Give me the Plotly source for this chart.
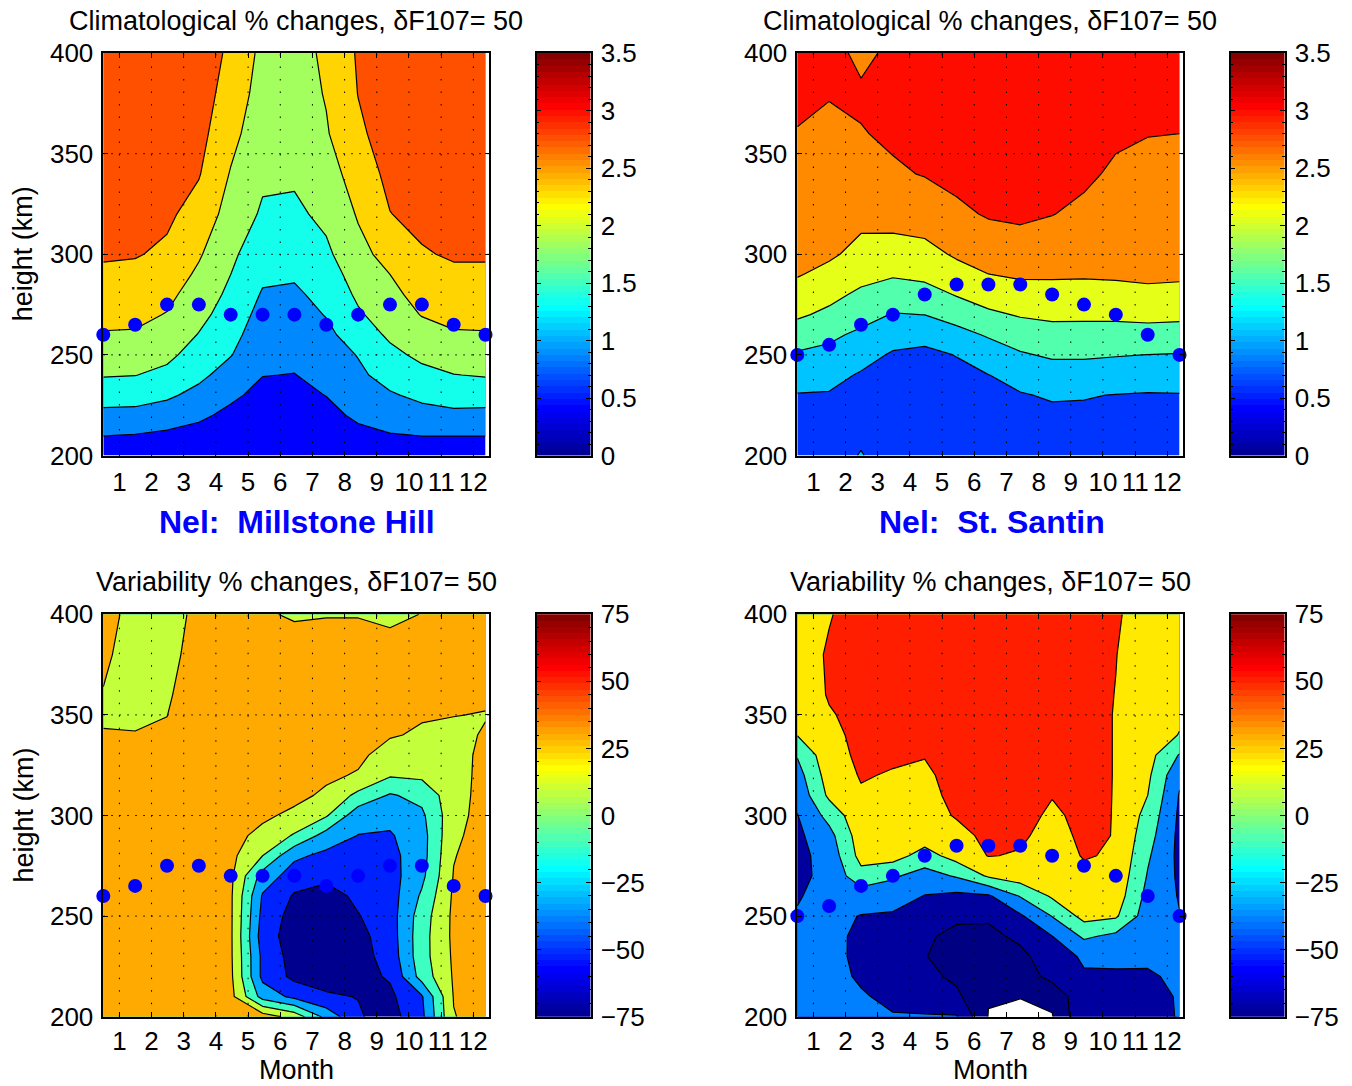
import plotly.graph_objects as go

W, H = 1352, 1086

# ---------------------------------------------------------------- data
MONTH_POS = [0.5, 1.49, 2.48, 3.47, 4.46, 5.45, 6.44, 7.43, 8.42, 9.41, 10.40, 11.39, 12.38]
MONTH_TICKS = [1, 2, 3, 4, 5, 6, 7, 8, 9, 10, 11, 12]
HEIGHT_TICKS = [200, 250, 300, 350, 400]
GRID_HEIGHTS = [250, 300, 350]

HEIGHT_CLIM = [200, 210, 220, 230, 240, 250, 260, 270, 280, 290, 300, 320, 340, 360, 380, 400]
HEIGHT_VAR = [200, 210, 220, 230, 240, 250, 260, 270, 280, 290, 300, 310, 320, 330, 340,
              350, 360, 380, 400]

# monthly hmF2 (km)
MILLSTONE_HMF2 = [260, 265, 275, 275, 270, 270, 270, 265, 270, 275, 275, 265, 260]
SANTIN_HMF2 = [250, 255, 265, 270, 280, 285, 285, 285, 280, 275, 270, 260, 250]

# climatological % change of Ne, one height profile (bottom -> top) per month
MILLSTONE_CLIM = [
    [0.40, 0.71, 1.05, 1.37, 1.67, 1.88, 2.08, 2.23, 2.37, 2.50, 2.63, 2.75, 2.82, 2.87, 2.90, 2.92],
    [0.38, 0.68, 1.03, 1.36, 1.65, 1.87, 2.07, 2.21, 2.34, 2.47, 2.61, 2.74, 2.82, 2.87, 2.90, 2.92],
    [0.35, 0.62, 0.93, 1.25, 1.53, 1.74, 1.92, 2.09, 2.22, 2.37, 2.50, 2.66, 2.75, 2.82, 2.86, 2.88],
    [0.30, 0.55, 0.78, 1.03, 1.28, 1.45, 1.62, 1.77, 1.90, 2.03, 2.16, 2.40, 2.61, 2.72, 2.78, 2.82],
    [0.25, 0.42, 0.60, 0.78, 0.97, 1.19, 1.32, 1.43, 1.54, 1.64, 1.73, 1.93, 2.08, 2.25, 2.40, 2.50],
    [0.20, 0.32, 0.45, 0.58, 0.71, 0.81, 0.91, 1.02, 1.13, 1.25, 1.36, 1.58, 1.72, 1.82, 1.91, 1.99],
    [0.20, 0.31, 0.44, 0.57, 0.69, 0.80, 0.90, 1.00, 1.10, 1.22, 1.33, 1.55, 1.71, 1.81, 1.90, 1.98],
    [0.25, 0.41, 0.56, 0.71, 0.83, 0.95, 1.07, 1.19, 1.30, 1.41, 1.55, 1.75, 1.91, 2.07, 2.14, 2.17],
    [0.33, 0.57, 0.79, 0.96, 1.08, 1.19, 1.38, 1.58, 1.72, 1.85, 1.98, 2.15, 2.32, 2.50, 2.59, 2.63],
    [0.38, 0.67, 0.93, 1.12, 1.35, 1.52, 1.72, 1.87, 1.98, 2.11, 2.26, 2.57, 2.70, 2.78, 2.83, 2.86],
    [0.40, 0.71, 1.00, 1.28, 1.51, 1.74, 1.93, 2.13, 2.28, 2.42, 2.54, 2.70, 2.79, 2.85, 2.88, 2.90],
    [0.40, 0.71, 1.06, 1.38, 1.63, 1.86, 2.07, 2.22, 2.37, 2.50, 2.63, 2.75, 2.82, 2.87, 2.90, 2.92],
    [0.40, 0.71, 1.05, 1.37, 1.67, 1.88, 2.08, 2.23, 2.37, 2.50, 2.63, 2.75, 2.82, 2.87, 2.90, 2.92],
]

SANTIN_CLIM = [
    [0.50, 0.58, 0.70, 0.84, 1.05, 1.29, 1.58, 1.90, 2.11, 2.35, 2.45, 2.58, 2.68, 2.78, 2.90, 2.98],
    [0.70, 0.72, 0.76, 0.83, 0.99, 1.22, 1.44, 1.73, 1.96, 2.17, 2.39, 2.55, 2.64, 2.72, 2.82, 2.95],
    [0.88, 0.80, 0.72, 0.74, 0.82, 1.02, 1.25, 1.52, 1.74, 1.98, 2.17, 2.45, 2.62, 2.78, 2.86, 2.70],
    [0.68, 0.66, 0.66, 0.69, 0.74, 0.81, 1.05, 1.32, 1.58, 1.88, 2.10, 2.51, 2.75, 2.86, 2.89, 2.89],
    [0.68, 0.66, 0.66, 0.68, 0.73, 0.78, 0.97, 1.35, 1.64, 1.95, 2.15, 2.57, 2.82, 2.92, 2.98, 3.00],
    [0.66, 0.66, 0.68, 0.72, 0.78, 0.87, 1.20, 1.52, 1.86, 2.12, 2.38, 2.71, 2.92, 3.02, 3.06, 3.08],
    [0.68, 0.70, 0.74, 0.80, 0.855, 1.11, 1.39, 1.74, 2.05, 2.31, 2.52, 2.84, 3.00, 3.08, 3.12, 3.14],
    [0.70, 0.72, 0.77, 0.84, 0.97, 1.30, 1.56, 1.87, 2.12, 2.38, 2.58, 2.88, 3.02, 3.09, 3.12, 3.14],
    [0.70, 0.75, 0.80, 0.89, 1.15, 1.40, 1.66, 1.92, 2.13, 2.38, 2.55, 2.81, 2.97, 3.05, 3.09, 3.10],
    [0.70, 0.74, 0.80, 0.88, 1.15, 1.40, 1.67, 1.91, 2.12, 2.37, 2.50, 2.72, 2.87, 2.96, 3.02, 3.05],
    [0.70, 0.73, 0.78, 0.85, 1.10, 1.37, 1.65, 1.92, 2.14, 2.39, 2.48, 2.62, 2.74, 2.86, 2.94, 2.98],
    [0.70, 0.73, 0.77, 0.83, 1.07, 1.34, 1.66, 1.95, 2.17, 2.44, 2.50, 2.60, 2.70, 2.81, 2.90, 2.95],
    [0.70, 0.73, 0.77, 0.84, 1.06, 1.32, 1.64, 1.93, 2.15, 2.41, 2.49, 2.60, 2.70, 2.80, 2.90, 2.95],
]

# variability % change of Ne, one height profile (bottom -> top) per month
MILLSTONE_VAR = [
    [30, 30, 30, 30, 30, 30, 30, 30, 30, 30, 30, 29, 27, 24, 21, 18, 19.5, 22, 26],
    [30, 30, 30, 30, 30, 30, 30, 30, 30, 30, 30, 28, 26, 23, 20.5, 18, 16, 15, 14.5],
    [30, 30, 30, 30, 30, 30, 30, 30, 30, 30, 30, 29, 27, 25, 22, 19.8, 18.5, 15, 15],
    [30, 30, 30, 30, 30, 30, 30, 30, 30, 30, 30, 30, 30, 30, 30, 30, 27, 26.5, 23],
    [30, 26, 24, 23, 23, 23, 23, 24, 25, 27, 29, 30, 30, 30, 30, 30, 30, 30, 30],
    [30, -28, -45, -45, -50, -46, -42, -28, 0, 14, 24, 28, 30, 30, 30, 30, 30, 28, 22],
    [12, -45, -65, -68, -70, -68, -62, -50, -36, -2, 15, 26, 30, 30, 30, 30, 30, 29, 18],
    [-26, -58, -66, -70, -72, -72, -68, -55, -45, -28, 2, 16, 24, 28, 30, 30, 30, 30, 19],
    [-58, -60.5, -66, -68, -66, -61, -56, -50, -45, -40.5, -32, -5, 18, 25, 28, 30, 30, 30, 19],
    [-68, -64, -58, -52, -50, -49, -49, -48, -46, -42, -34, -22, 2, 10, 22, 26, 28, 24, 18],
    [-45, -42, -12, -8, -8, -10, -17, -25, -28, -28, -24, -14, 4, 12, 17, 22, 25, 26, 20.2],
    [19, 21, 22, 23, 24, 24, 23, 21, 19, 16, 13, 12, 12, 14, 17, 20.3, 23, 26, 26],
    [30, 30, 30, 30, 30, 30, 30, 30, 30, 29, 28, 27, 26, 24, 21, 19.5, 22, 26, 28],
]

SANTIN_VAR = [
    [-30, -31, -32, -33, -35, -36.5, -39.5, -44, -46, -44, -39, -30, -20, -6, 23, 30, 36, 44, 46],
    [-28, -28, -28, -29, -30, -31, -31, -31, -27, -18, 2, 28, 36, 42, 46, 50, 54, 53.8, 51],
    [-30, -35, -42, -45, -44, -39, -25, 12, 32, 38, 44, 49, 54, 57, 58, 59, 60, 60, 59],
    [-36, -45, -52, -55, -52, -42, -24, -4, 34, 40, 44, 47, 50, 56, 58, 59, 60, 60, 60],
    [-36, -50, -60, -67, -64, -54, -39, -20, 10, 38, 42, 45, 48, 53, 57, 59, 60, 61, 61],
    [-36, -62, -74, -78, -75, -63, -45, -5, 34, 44, 54, 58, 60, 61, 61, 61, 61, 61, 61],
    [-99, -96.5, -88, -82, -75, -64, -42, 26, 53, 58, 61, 62, 62, 62, 62, 62, 62, 62, 62],
    [-110, -96.5, -86, -75, -62, -42, -6, 38, 50, 56, 60, 62, 62, 62, 62, 62, 62, 62, 62],
    [-99.5, -92, -58, -52, -38.5, -7, 26, 33, 38, 43, 48, 53, 56, 58, 59, 60, 60, 61, 61],
    [-42, -44, -41, -34, -3, 32, 36, 45, 54, 57, 58, 59, 60, 60, 60, 60, 60, 60, 60],
    [-50, -47, -41, -33, -15, 26, 38, 44, 49, 51, 51, 51, 51, 51, 51, 51, 51.5, 52.5, 56],
    [-49, -46, -40, -35, -30, -24, -17, -10, -4, 4, 12, 22, 28, 33, 36, 38, 39, 40, 36],
    [-36, -36, -35, -33, -35, -37, -40, -43, -45, -45, -43, -40, -32, -10, 21, 26, 30, 34, 36],
]

# contour levels and the fill colour of each band (lowest band first)
CLIM_LEVELS_MH = dict(start=0.70, end=2.58, size=0.47)
CLIM_COLORS_MH = ["#0000FF", "#0088FF", "#14FFEB", "#A2FF5D", "#FFD400", "#FF5000"]
CLIM_LEVELS_SS = dict(start=0.86, end=2.80, size=0.485)
CLIM_COLORS_SS = ["#0034FF", "#00C4FF", "#52FFAD", "#E6FF19", "#FF8A00", "#FF0C00"]
VAR_LEVELS_MH = dict(start=-60, end=20, size=20)
VAR_COLORS_MH = ["#00008F", "#0022FF", "#00A6FF", "#3DFFC2", "#C4FF3B", "#FFAA00"]
VAR_LEVELS_SS = dict(start=-98, end=52, size=30)
VAR_COLORS_SS = ["#FFFFFF", "#000082", "#00009E", "#0080FF", "#47FFB8", "#FFE900", "#FF1E00"]

CLIM_TITLE = "Climatological % changes, δF107= 50"
VAR_TITLE = "Variability % changes, δF107= 50"

JET = [[0.0, "#00008F"], [0.117, "#0000FF"], [0.367, "#00FFFF"],
       [0.617, "#FFFF00"], [0.867, "#FF0000"], [1.0, "#800000"]]

FONT = "Liberation Sans, Arial, Helvetica, sans-serif"
TICK_SIZE = 26
LABEL_SIZE = 27

# pixel boxes (left, top, right, bottom) of the four panels and their colour bars
PANELS = [
    dict(z=MILLSTONE_CLIM, heights=HEIGHT_CLIM, levels=CLIM_LEVELS_MH, colors=CLIM_COLORS_MH,
         hm=MILLSTONE_HMF2, box=(103.3, 53.1, 489.4, 455.5), cbx=(536.7, 590.7),
         crange=(0, 3.5), cmajor=0.5, cminor=0.1, title=CLIM_TITLE, xstand=3),
    dict(z=SANTIN_CLIM, heights=HEIGHT_CLIM, levels=CLIM_LEVELS_SS, colors=CLIM_COLORS_SS,
         hm=SANTIN_HMF2, box=(797.3, 53.1, 1183.4, 455.5), cbx=(1230.7, 1284.7),
         crange=(0, 3.5), cmajor=0.5, cminor=0.1, title=CLIM_TITLE, xstand=3),
    dict(z=MILLSTONE_VAR, heights=HEIGHT_VAR, levels=VAR_LEVELS_MH, colors=VAR_COLORS_MH,
         hm=MILLSTONE_HMF2, box=(103.3, 614.3, 489.4, 1016.7), cbx=(536.7, 590.7),
         crange=(-75, 75), cmajor=25, cminor=5, title=VAR_TITLE, xstand=0),
    dict(z=SANTIN_VAR, heights=HEIGHT_VAR, levels=VAR_LEVELS_SS, colors=VAR_COLORS_SS,
         hm=SANTIN_HMF2, box=(797.3, 614.3, 1183.4, 1016.7), cbx=(1230.7, 1284.7),
         crange=(-75, 75), cmajor=25, cminor=5, title=VAR_TITLE, xstand=0),
]


def px_x(x):
    return x / W


def px_y(y):
    return 1 - y / H


def band_scale(colors):
    n = len(colors) - 1
    return [[k / n, c] for k, c in enumerate(colors)]


def ax_name(kind, n):
    return kind if n == 1 else f"{kind}{n}"


fig = go.Figure()
layout = dict(
    width=W, height=H, margin=dict(l=0, r=0, t=0, b=0, pad=0, autoexpand=False),
    paper_bgcolor="white", plot_bgcolor="white",
    font=dict(family=FONT, size=TICK_SIZE, color="black"),
    showlegend=False, annotations=[],
)

for i, p in enumerate(PANELS):
    n = i + 1
    xa, ya = ax_name("x", n), ax_name("y", n)
    x0, y0, x1, y1 = p["box"]

    fig.add_trace(go.Contour(
        x=MONTH_POS, y=p["heights"], z=p["z"], transpose=True,
        autocontour=False,
        contours=dict(start=p["levels"]["start"], end=p["levels"]["end"],
                      size=p["levels"]["size"], coloring="fill", showlines=True),
        colorscale=band_scale(p["colors"]), showscale=False,
        line=dict(color="black", width=1.2, smoothing=0),
        hoverinfo="skip", xaxis=xa, yaxis=ya,
    ))

    # dotted grid on top of the filled contours
    gx, gy = [], []
    for m in MONTH_TICKS:
        gx += [m, m, None]
        gy += [200, 400, None]
    fig.add_trace(go.Scatter(x=gx, y=gy, mode="lines", hoverinfo="skip",
                             line=dict(color="black", width=1, dash="1.5px,11px"),
                             xaxis=xa, yaxis=ya))
    hx, hy = [], []
    for h in GRID_HEIGHTS:
        hx += [0.5, 12.5, None]
        hy += [h, h, None]
    fig.add_trace(go.Scatter(x=hx, y=hy, mode="lines", hoverinfo="skip",
                             line=dict(color="black", width=1, dash="1.5px,6.5px"),
                             xaxis=xa, yaxis=ya))

    fig.add_trace(go.Scatter(x=MONTH_POS, y=p["hm"], mode="markers", cliponaxis=False,
                             marker=dict(size=14, color="#0000FF", line=dict(width=0)),
                             hoverinfo="skip", xaxis=xa, yaxis=ya))

    common = dict(showline=True, linecolor="black", linewidth=1.5, mirror="ticks",
                  ticks="inside", ticklen=5, tickwidth=1, tickcolor="black",
                  showgrid=False, zeroline=False, fixedrange=True, automargin=False,
                  tickfont=dict(size=TICK_SIZE, color="black"))
    layout["xaxis" if n == 1 else f"xaxis{n}"] = dict(
        domain=[px_x(x0), px_x(x1)], range=[0.5, 12.5], anchor=ya,
        tickmode="array", tickvals=MONTH_TICKS, ticklabelstandoff=p["xstand"], **common)
    layout["yaxis" if n == 1 else f"yaxis{n}"] = dict(
        domain=[px_y(y1), px_y(y0)], range=[200, 400], anchor=xa,
        tickmode="array", tickvals=HEIGHT_TICKS, ticklabelstandoff=3, **common)

    # colour bar drawn as its own little axis (one extra cell past each end,
    # clipped by the axis range, so the ramp fills the whole box)
    cn = n + 4
    cxa, cya = ax_name("x", cn), ax_name("y", cn)
    lo, hi = p["crange"]
    nstep = 64
    step = (hi - lo) / nstep
    ramp = [lo + (k + 0.5) * step for k in range(-1, nstep + 1)]
    fig.add_trace(go.Heatmap(x=[0], y=ramp, z=[[min(max(v, lo), hi)] for v in ramp],
                             colorscale=JET, zmin=lo, zmax=hi, showscale=False,
                             hoverinfo="skip", xaxis=cxa, yaxis=cya))
    cx0, cx1 = p["cbx"]
    layout[f"xaxis{cn}"] = dict(domain=[px_x(cx0), px_x(cx1)], range=[-0.5, 0.5],
                                anchor=cya, showline=True, linecolor="black", linewidth=1.5,
                                mirror=True, ticks="", showticklabels=False, automargin=False,
                                showgrid=False, zeroline=False, fixedrange=True)
    layout[f"yaxis{cn}"] = dict(domain=[px_y(y1), px_y(y0)], range=[lo, hi], anchor=cxa,
                                side="right", tickmode="linear", tick0=lo, dtick=p["cmajor"],
                                ticks="inside", ticklen=5, tickwidth=1, tickcolor="black",
                                minor=dict(dtick=p["cminor"], tick0=lo, ticks="inside",
                                           ticklen=3, tickcolor="black", tickwidth=1),
                                showline=True, linecolor="black", linewidth=1.5,
                                mirror="ticks", showgrid=False, zeroline=False,
                                fixedrange=True, ticklabelstandoff=3, automargin=False,
                                tickfont=dict(size=TICK_SIZE, color="black"))

    # panel title
    cx = px_x((x0 + x1) / 2)
    layout["annotations"].append(dict(
        text=p["title"], x=cx, y=px_y(y0 - 32), xref="paper", yref="paper",
        xanchor="center", yanchor="middle", showarrow=False,
        font=dict(size=LABEL_SIZE, family=FONT, color="black")))

    if n in (1, 3):
        layout["annotations"].append(dict(
            text="height (km)", x=px_x(23), y=px_y((y0 + y1) / 2), xref="paper",
            yref="paper", xanchor="center", yanchor="middle", textangle=-90,
            showarrow=False, font=dict(size=LABEL_SIZE, family=FONT, color="black")))
    if n in (3, 4):
        layout["annotations"].append(dict(
            text="Month", x=cx, y=0, xref="paper", yref="paper",
            xanchor="center", yanchor="bottom", showarrow=False, borderpad=0,
            font=dict(size=LABEL_SIZE, family=FONT, color="black")))

for name, xc in (("Nel:\u00a0 Millstone Hill", 297), ("Nel:\u00a0 St. Santin", 992)):
    layout["annotations"].append(dict(
        text=f"<b>{name}</b>", x=px_x(xc), y=px_y(522), xref="paper", yref="paper",
        xanchor="center", yanchor="middle", showarrow=False,
        font=dict(size=32, family=FONT, color="#0000FF")))

fig.update_layout(**layout)
fig.write_html("out.html")
